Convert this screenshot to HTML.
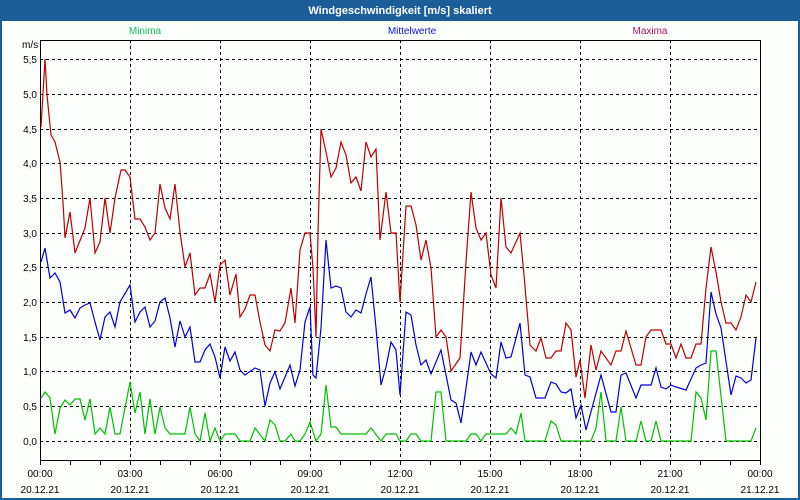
<!DOCTYPE html>
<html><head><meta charset="utf-8"><style>
body{margin:0;width:800px;height:500px;overflow:hidden;background:#1c5f98;}
svg{display:block}
</style></head><body>
<svg width="800" height="500" xmlns="http://www.w3.org/2000/svg" font-family="Liberation Sans, DejaVu Sans, sans-serif">
<rect x="0" y="0" width="800" height="500" fill="#1c5f98"/>
<rect x="2" y="21" width="796" height="477" fill="#fcfffc"/>
<text x="400" y="14" fill="#fff" font-size="11" font-weight="bold" text-anchor="middle">Windgeschwindigkeit [m/s] skaliert</text>
<text x="145" y="34" fill="#10c060" font-size="10" text-anchor="middle">Minima</text>
<text x="412" y="34" fill="#1010e0" font-size="10" text-anchor="middle">Mittelwerte</text>
<text x="650" y="34" fill="#b01060" font-size="10" text-anchor="middle">Maxima</text>
<text x="22" y="48" fill="#000" font-size="10">m/s</text>
<g stroke="#000" stroke-width="1" stroke-dasharray="3,3" fill="none">
<path d="M40 59.5H760M40 94.5H760M40 129.5H760M40 163.5H760M40 198.5H760M40 233.5H760M40 267.5H760M40 302.5H760M40 337.5H760M40 371.5H760M40 406.5H760M40 441.5H760"/>
<path d="M130.5 40V460M220.5 40V460M310.5 40V460M400.5 40V460M490.5 40V460M580.5 40V460M670.5 40V460"/>
</g>
<g stroke="#000" stroke-width="1" fill="none">
<rect x="40.5" y="40.5" width="720" height="420"/>
<path d="M40.5 460V465M70.5 460V465M100.5 460V465M130.5 460V465M160.5 460V465M190.5 460V465M220.5 460V465M250.5 460V465M280.5 460V465M310.5 460V465M340.5 460V465M370.5 460V465M400.5 460V465M430.5 460V465M460.5 460V465M490.5 460V465M520.5 460V465M550.5 460V465M580.5 460V465M610.5 460V465M640.5 460V465M670.5 460V465M700.5 460V465M730.5 460V465M760.5 460V465"/>
</g>
<g font-size="10" fill="#000" text-anchor="end">
<text x="37" y="63">5,5</text><text x="37" y="98">5,0</text><text x="37" y="133">4,5</text><text x="37" y="167">4,0</text><text x="37" y="202">3,5</text><text x="37" y="237">3,0</text><text x="37" y="271">2,5</text><text x="37" y="306">2,0</text><text x="37" y="341">1,5</text><text x="37" y="375">1,0</text><text x="37" y="410">0,5</text><text x="37" y="445">0,0</text>
</g>
<g font-size="10" fill="#000" text-anchor="middle">
<text x="40" y="477">00:00</text><text x="130" y="477">03:00</text><text x="220" y="477">06:00</text><text x="310" y="477">09:00</text><text x="400" y="477">12:00</text><text x="490" y="477">15:00</text><text x="580" y="477">18:00</text><text x="670" y="477">21:00</text><text x="760" y="477">00:00</text>
<text x="40" y="493">20.12.21</text><text x="130" y="493">20.12.21</text><text x="220" y="493">20.12.21</text><text x="310" y="493">20.12.21</text><text x="400" y="493">20.12.21</text><text x="490" y="493">20.12.21</text><text x="580" y="493">20.12.21</text><text x="670" y="493">20.12.21</text><text x="760" y="493">21.12.21</text>
</g>
<g fill="none" stroke-width="1.2">
<polyline stroke="#c00000" points="41,127 45,59 47,95 51,135 55,142 60,162 63,202 65,238 70,212 75,253 85,228 90,198 95,253 100,242 105,198 110,233 115,198 121,170 125,170 130,177 135,219 140,219 145,227 150,240 155,233 160,184 165,208 170,219 175,184 180,232 185,267 190,253 195,295 200,288 205,288 210,274 215,302 220,265 225,260 230,295 236,274 240,317 245,309 250,295 255,295 260,322 265,345 270,351 275,330 280,331 285,323 291,288 295,323 300,250 305,233 310,233 313,268 316,337 318,232 321,129 326,152 331,177 336,168 341,142 346,155 351,183 356,177 361,191 366,142 371,157 376,149 380,240 386,192 391,233 396,233 400,302 406,206 411,206 416,225 421,260 426,240 431,268 436,337 441,330 446,337 451,371 460,358 466,262 471,192 476,228 481,240 486,233 491,275 496,288 501,198 506,247 511,253 520,233 524,275 530,345 536,351 541,338 546,358 551,358 556,351 561,351 566,323 571,330 576,377 580,360 585,398 591,345 596,370 601,351 611,365 616,351 621,351 626,331 636,365 641,365 646,337 651,330 661,330 666,344 671,344 676,358 681,344 686,358 691,358 696,344 701,344 706,288 711,247 716,272 721,302 726,323 731,323 736,330 741,317 746,295 751,302 756,282"/>
<polyline stroke="#0000e0" points="41,262 45,248 50,278 55,273 60,282 65,313 70,310 75,318 80,308 85,305 90,303 95,322 100,340 105,317 110,312 115,327 120,302 130,285 135,322 140,312 145,307 150,327 155,321 160,302 165,298 170,318 175,347 180,321 185,337 190,327 195,362 200,362 205,350 210,344 215,357 220,378 225,347 230,361 235,352 240,370 245,375 255,368 260,370 265,406 270,383 275,372 280,389 290,365 295,386 300,370 305,322 310,307 313,375 316,378 321,328 326,240 331,288 336,286 341,288 346,312 351,317 356,310 361,313 366,294 371,277 376,328 381,385 386,367 391,342 396,350 400,395 406,312 411,315 416,345 421,365 426,360 431,374 441,350 446,375 451,400 456,403 461,423 466,388 471,352 476,365 481,352 491,374 496,378 501,342 506,358 511,357 520,323 525,375 530,377 536,398 545,398 551,382 556,384 561,392 566,393 571,389 576,418 581,405 586,430 601,375 611,412 616,412 621,375 626,373 636,398 641,385 651,385 656,368 661,387 666,389 671,385 676,387 686,390 696,368 701,365 706,363 711,292 716,314 721,328 731,395 736,376 741,378 746,383 751,380 756,338"/>
<polyline stroke="#00c000" points="41,398 45,392 50,398 55,434 60,408 65,400 70,405 75,399 80,399 85,420 90,399 95,434 100,428 105,434 110,407 115,434 120,434 125,408 130,382 135,413 140,392 145,434 150,399 155,434 160,407 165,428 170,434 185,434 190,407 195,434 200,441 205,413 210,441 215,428 220,441 225,434 235,434 240,441 250,441 255,428 265,441 270,420 275,425 280,441 285,441 291,434 295,441 300,441 305,434 310,422 316,441 321,434 326,385 331,427 336,427 341,434 366,434 371,428 381,441 386,434 396,434 400,441 406,441 411,434 416,434 421,441 431,441 436,392 441,392 446,441 466,441 471,434 476,434 481,441 486,434 506,434 511,428 516,434 521,413 525,441 545,441 551,421 556,425 561,441 591,441 596,428 601,392 606,441 616,441 621,407 626,441 636,441 641,421 646,441 651,441 656,421 661,441 691,441 696,392 701,398 706,420 711,351 716,351 726,441 751,441 756,428"/>
</g>
</svg>
</body></html>
